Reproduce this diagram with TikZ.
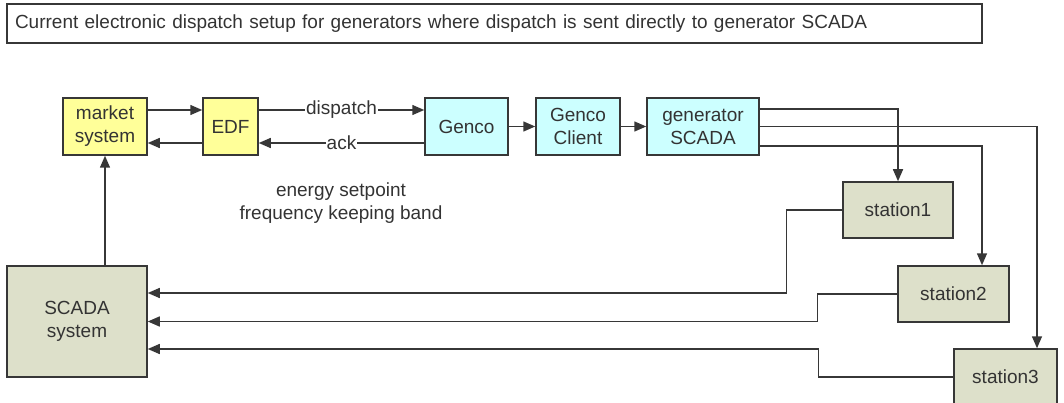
\documentclass[tikz,border=0pt]{standalone}
\usepackage{fontspec}
\setmainfont{Liberation Sans}
\usetikzlibrary{arrows.meta,calc}
\definecolor{mktfill}{RGB}{255,255,153}
\definecolor{gcofill}{RGB}{204,255,255}
\definecolor{stnfill}{RGB}{221,224,202}
\definecolor{edge}{RGB}{55,55,55}
\definecolor{ink}{RGB}{51,51,51}
\tikzset{
  txt/.style={text=ink, font=\fontsize{19}{23}\selectfont},
  box/.style={draw=edge, line width=1.5pt, align=center, inner sep=0pt, txt},
  mkt/.style={box, fill=mktfill},
  gco/.style={box, fill=gcofill},
  stn/.style={box, fill=stnfill},
  link/.style={draw=edge, line width=1.5pt},
  arr/.style={link, -{Triangle[length=12pt,width=10pt]}},
  lbl/.style={fill=white, inner sep=1pt, txt}
}
\begin{document}
\begin{tikzpicture}[x=1pt,y=-1pt]
\useasboundingbox (0,0) rectangle (1064,403);

% heading
\node[draw=edge, line width=1.2pt, minimum width=975pt, minimum height=39pt,
      inner sep=0pt, txt, text width=959pt, align=left] (title) at (494.5,23.5)
  {Current electronic dispatch setup for generators where dispatch is sent directly to generator SCADA};

% upper chain
\node[mkt, minimum width=84pt, minimum height=57pt] (market) at (105,126.5) {market\\system};
\node[mkt, minimum width=55pt, minimum height=57pt] (edf) at (230.5,126.5) {EDF};
\node[gco, minimum width=83pt, minimum height=57pt] (genco) at (466.5,126.5) {Genco};
\node[gco, minimum width=84pt, minimum height=57pt] (client) at (578,126.5) {Genco\\Client};
\node[gco, minimum width=112pt, minimum height=57pt] (gs) at (703,126.5) {generator\\SCADA};

% stations and SCADA system
\node[stn, minimum width=110pt, minimum height=56pt] (st1) at (898,210) {station1};
\node[stn, minimum width=111pt, minimum height=56pt] (st2) at (953.5,294) {station2};
\node[stn, minimum width=103pt, minimum height=56pt] (st3) at (1005.5,377) {station3};
\node[stn, minimum width=140pt, minimum height=111pt] (scada) at (77,321.5) {SCADA\\system};

\node[txt, align=center] (note) at (341,203)
  {energy setpoint\\frequency keeping band};

% market / EDF exchange
\draw[arr] ([yshift=16.5pt]market.east) -- ([yshift=16.5pt]edf.west);
\draw[arr] ([yshift=-16.5pt]edf.west) -- ([yshift=-16.5pt]market.east);

% dispatch and acknowledgement
\draw[arr] ([yshift=16.5pt]edf.east) -- node[lbl] {dispatch} ([yshift=16.5pt]genco.west);
\draw[arr] ([yshift=-16.5pt]genco.west) -- node[lbl] {ack} ([yshift=-16.5pt]edf.east);

\draw[arr] (genco) -- (client);
\draw[arr] (client) -- (gs);

% generator SCADA to stations
\draw[arr] ([yshift=17.5pt]gs.east) -| (st1.north);
\draw[arr] (gs.east) -| ([xshift=31.5pt]st3.north);
\draw[arr] ([yshift=-19.5pt]gs.east) -| ([xshift=28.5pt]st2.north);

% stations back to SCADA system
\draw[arr] (st1.west) -- ++(-56,0) |- ([yshift=28.5pt]scada.east);
\draw[arr] (st2.west) -- ++(-80,0) |- (scada.east);
\draw[arr] (st3.west) -- ++(-135,0) |- ([yshift=-27.5pt]scada.east);

% SCADA system to market system
\draw[arr] (scada.north -| market.south) -- (market.south);
\end{tikzpicture}
\end{document}
